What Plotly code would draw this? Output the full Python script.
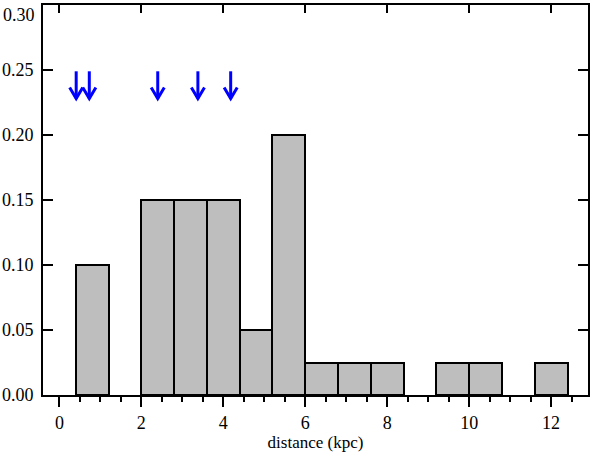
import plotly.graph_objects as go

# ---- data ----
bin_centers = [0.8, 2.4, 3.2, 4.0, 4.8, 5.6, 6.4, 7.2, 8.0, 9.6, 10.4, 12.0]
fractions = [0.10, 0.15, 0.15, 0.15, 0.05, 0.20, 0.025, 0.025, 0.025, 0.025, 0.025, 0.025]
bin_width = 0.8
arrow_x = [0.41, 0.73, 2.40, 3.38, 4.18]
arrow_top = 0.249
arrow_tip = 0.228

x_ticks = [0, 2, 4, 6, 8, 10, 12]
y_ticks = [0, 0.05, 0.10, 0.15, 0.20, 0.25, 0.30]
# top label (0.30) is put in by hand so it is not cut by the page edge
y_ticktext = ["0.00", "0.05", "0.10", "0.15", "0.20", "0.25", ""]

font_name = "Times New Roman"

# arrows drawn as open-V line glyphs
head_dx = 0.16
head_dy = 0.0085
ax_line, ay_line = [], []
for xa in arrow_x:
    ax_line += [xa, xa, None, xa - head_dx, xa, xa + head_dx, None]
    ay_line += [arrow_top, arrow_tip, None, arrow_tip + head_dy, arrow_tip, arrow_tip + head_dy, None]

bars = go.Bar(
    x=bin_centers,
    y=fractions,
    width=bin_width,
    marker=dict(color="rgb(190,190,190)", line=dict(color="black", width=2)),
    hoverinfo="x+y",
)

arrows = go.Scatter(
    x=ax_line,
    y=ay_line,
    mode="lines",
    line=dict(color="rgb(0,0,255)", width=3),
    hoverinfo="skip",
)

# invisible trace so the top axis (inward ticks only) gets drawn
top_dummy = go.Scatter(x=[0], y=[0], xaxis="x2", mode="markers",
                       marker=dict(opacity=0), hoverinfo="skip")

fig = go.Figure(data=[bars, arrows, top_dummy])

fig.update_layout(
    width=598,
    height=455,
    showlegend=False,
    plot_bgcolor="white",
    paper_bgcolor="white",
    margin=dict(l=43, r=10, t=5, b=60),
    font=dict(family=font_name, size=18, color="black"),
    bargap=0,
    xaxis=dict(
        range=[-0.4, 12.9],
        tickvals=x_ticks,
        ticks="outside",
        ticklen=10,
        tickwidth=2,
        tickcolor="black",
        minor=dict(dtick=0.5, tick0=0, ticks="outside", ticklen=5, tickwidth=2, tickcolor="black"),
        showline=True,
        linecolor="black",
        linewidth=2,
        showgrid=False,
        zeroline=False,
        automargin=False,
        title=dict(text="distance (kpc)", font=dict(family=font_name, size=17), standoff=4),
    ),
    xaxis2=dict(
        overlaying="x",
        side="top",
        matches="x",
        tickvals=x_ticks,
        ticks="inside",
        ticklen=8,
        tickwidth=2,
        tickcolor="black",
        showticklabels=False,
        showline=True,
        linecolor="black",
        linewidth=2,
        showgrid=False,
        zeroline=False,
        automargin=False,
    ),
    yaxis=dict(
        range=[0, 0.30],
        tickvals=y_ticks,
        ticktext=y_ticktext,
        ticks="inside",
        ticklen=10,
        tickwidth=2,
        tickcolor="black",
        mirror="ticks",
        showline=True,
        linecolor="black",
        linewidth=2,
        showgrid=False,
        zeroline=False,
        automargin=False,
        ticklabelstandoff=4,
    ),
    annotations=[dict(
        text="0.30", x=0, xref="paper", xanchor="right", xshift=-6,
        y=0.30, yref="y", yanchor="top", yshift=2,
        showarrow=False, font=dict(family=font_name, size=18),
    )],
)

# drop the default page margin so the figure sits at the window corner
fig.write_html("out.html", config={"displayModeBar": False},
               post_script="document.body.style.margin='0';")
